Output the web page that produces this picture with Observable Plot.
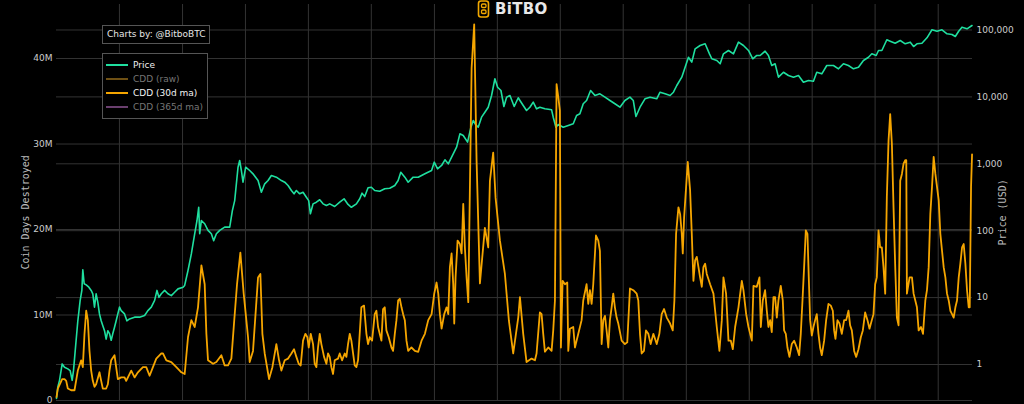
<!DOCTYPE html>
<html>
<head>
<meta charset="utf-8">
<script src="https://cdn.jsdelivr.net/npm/d3@7"></script>
<script src="https://cdn.jsdelivr.net/npm/@observablehq/plot@0.6"></script>
<style>
html, body { margin: 0; padding: 0; background: #000; }
#wrap { position: relative; width: 1024px; height: 404px; overflow: hidden; background: #000; }
#wrap svg { display: block; }
.box { position: absolute; box-sizing: border-box; border: 1px solid #555; background: #000;
       font-family: "DejaVu Sans", sans-serif; font-size: 9px; color: #e6e6e6; }
.item { position: absolute; left: 3px; height: 12px; line-height: 12px; white-space: nowrap; }
.sw { position: absolute; left: 0; top: 5px; width: 22px; height: 2px; }
.lab { position: absolute; left: 27px; top: 0; }
#logo { position: absolute; left: 477px; top: 0px; height: 18px; }
#logo span { position: absolute; left: 18px; top: 0px; font-family: "DejaVu Sans", sans-serif; font-weight: bold;
             font-size: 15px; line-height: 18px; color: #e8e8e8; letter-spacing: 0.3px; }
</style>
</head>
<body>
<div id="wrap"></div>
<script>
// ---- Data ----
// Price (USD), dates as decimal years
const priceTimes = [2011.00,2011.021,2011.048,2011.090,2011.127,2011.180,2011.217,2011.249,2011.270,2011.302,2011.339,
  2011.376,2011.403,2011.418,2011.440,2011.472,2011.514,2011.551,2011.577,2011.604,2011.630,2011.657,2011.683,2011.710,
  2011.736,2011.763,2011.789,2011.816,2011.842,2011.869,2011.895,2011.922,2011.948,
  2012.001,2012.028,2012.081,2012.118,2012.160,2012.240,2012.319,2012.399,2012.451,2012.505,2012.558,2012.595,2012.626,
  2012.664,2012.716,2012.769,2012.822,2012.875,2012.928,
  2013.008,2013.034,2013.087,2013.140,2013.193,2013.230,2013.257,2013.273,2013.299,2013.352,2013.405,2013.458,2013.495,
  2013.538,2013.591,2013.670,2013.750,2013.792,2013.829,2013.882,2013.908,2013.935,2013.961,
  2014.004,2014.067,2014.120,2014.200,2014.253,2014.306,2014.359,2014.412,2014.491,2014.571,2014.624,2014.677,2014.730,
  2014.772,2014.809,2014.862,2014.915,2014.968,
  2015.005,2015.032,2015.074,2015.127,2015.180,2015.233,2015.286,2015.339,2015.418,2015.498,2015.567,2015.630,2015.683,
  2015.763,2015.816,2015.853,2015.895,2015.948,
  2016.001,2016.054,2016.133,2016.213,2016.292,2016.372,2016.425,2016.467,2016.531,2016.584,2016.663,2016.743,2016.849,
  2016.955,2016.997,
  2017.050,2017.114,2017.167,2017.220,2017.273,2017.352,2017.405,2017.458,2017.527,2017.580,2017.617,2017.654,2017.696,
  2017.749,2017.802,2017.855,2017.908,2017.961,
  2018.004,2018.057,2018.104,2018.147,2018.200,2018.268,2018.332,2018.359,2018.411,2018.464,2018.517,2018.570,2018.623,
  2018.676,2018.756,2018.862,2018.888,2018.931,2018.968,
  2019.047,2019.127,2019.206,2019.259,2019.312,2019.365,2019.418,2019.482,2019.551,2019.630,2019.710,2019.789,2019.868,
  2019.948,
  2020.027,2020.107,2020.160,2020.202,2020.266,2020.345,2020.425,2020.531,2020.584,2020.663,2020.743,2020.796,2020.849,
  2020.928,2020.981,
  2021.034,2021.087,2021.140,2021.219,2021.299,2021.368,2021.405,2021.485,2021.538,2021.590,2021.670,2021.749,2021.829,
  2021.908,2021.988,
  2022.056,2022.120,2022.173,2022.252,2022.305,2022.358,2022.411,2022.464,2022.544,2022.623,2022.703,2022.782,2022.861,
  2022.941,
  2023.020,2023.073,2023.153,2023.232,2023.338,2023.418,2023.497,2023.576,2023.656,2023.736,2023.815,2023.895,2023.948,
  2024.017,2024.054,2024.107,2024.186,2024.239,2024.318,2024.398,2024.477,2024.557,2024.610,2024.663,2024.742,2024.822,
  2024.901,2024.981,
  2025.060,2025.140,2025.219,2025.272,2025.325,2025.378,2025.458,2025.537];
const priceValues = [0.31,0.46,0.58,1.02,0.91,0.86,0.81,0.58,0.81,1.8,4.5,
  9.1,12.8,26,16.1,15.5,14.3,12.8,11.4,7.2,11.4,8.5,5.7,4.5,
  3.8,3.2,2.4,3.2,2.9,2.3,2.9,3.6,4.5,
  7.2,6.4,5.7,4.5,4.8,5.1,5.1,5.4,6.4,7.2,9.1,12.8,10.1,
  11.4,12.8,11.4,10.7,12.0,13.5,
  14.3,15.2,25.4,45,90,142,224,90,142,127,101,90,71,
  90,101,113,113,200,282,890,1120,794,531,
  890,794,708,562,376,502,562,668,631,562,531,474,399,
  356,399,356,376,317,
  282,179,252,267,290,252,238,252,230,267,300,247,224,
  252,300,364,324,438,
  447,399,389,423,432,474,562,748,631,531,631,631,708,
  794,1057,
  841,944,1148,1000,1256,1770,2805,2650,2104,3524,4436,3864,3524,
  4977,5902,7015,10500,18660,
  13960,12470,7190,9910,10500,7190,9700,8830,7430,6260,7015,8340,6640,
  7015,6640,6410,4977,3524,3864,
  3524,3733,3963,5272,5585,7890,8830,12470,10500,11120,9910,8830,7890,
  7015,
  8830,9910,8830,5090,7015,9370,9910,9370,11750,11120,10500,11750,14800,
  19720,27800,
  39170,33040,52360,58600,62200,44060,37150,35000,31260,44060,49430,44060,65770,
  58600,49430,
  37150,41590,41590,48200,41590,29450,31260,19720,23390,20890,19720,20890,16600,
  17580,
  17180,23390,22130,29450,29450,26300,31260,29450,26300,27800,35000,39170,44060,
  41590,49430,49430,71450,68080,63530,69660,62200,65770,56620,62200,63530,76380,
  100700,95940,
  100700,87700,85700,80000,95940,110200,104200,116700];

// CDD (30d ma), millions of coin days, dates as decimal years
const cddTimes = [2011.00,2011.021,2011.090,2011.127,2011.154,2011.180,2011.233,2011.286,2011.339,2011.392,2011.418,
  2011.445,2011.472,2011.498,2011.524,2011.551,2011.577,2011.604,2011.630,2011.683,2011.710,2011.736,2011.789,2011.816,
  2011.842,2011.869,2011.922,2011.948,2011.975,
  2012.028,2012.081,2012.107,2012.187,2012.240,2012.293,2012.372,2012.425,2012.478,2012.531,2012.584,2012.664,2012.690,
  2012.743,2012.822,2012.902,2012.981,
  2013.034,2013.087,2013.140,2013.193,2013.246,2013.300,2013.352,2013.379,2013.405,2013.485,2013.538,2013.617,2013.670,
  2013.723,2013.776,2013.818,2013.866,2013.919,2013.972,
  2014.014,2014.041,2014.067,2014.120,2014.200,2014.237,2014.269,2014.306,2014.375,2014.428,2014.491,2014.534,2014.571,
  2014.624,2014.677,2014.730,2014.772,2014.809,2014.846,2014.878,2014.915,2014.952,2014.984,
  2015.005,2015.037,2015.074,2015.100,2015.127,2015.153,2015.180,2015.206,2015.249,2015.286,2015.312,2015.339,2015.365,
  2015.392,2015.418,2015.471,2015.498,2015.535,2015.577,2015.604,2015.630,2015.657,2015.683,2015.736,2015.763,2015.789,
  2015.842,2015.884,2015.922,2015.948,2015.975,
  2016.012,2016.054,2016.081,2016.107,2016.133,2016.160,2016.186,2016.213,2016.239,2016.276,2016.319,2016.345,2016.372,
  2016.398,2016.425,2016.451,2016.478,2016.504,2016.531,2016.557,2016.584,2016.636,2016.690,2016.743,2016.796,2016.849,
  2016.902,2016.955,2016.997,
  2017.034,2017.061,2017.087,2017.114,2017.156,2017.193,2017.220,2017.246,2017.273,2017.299,2017.315,2017.336,2017.368,
  2017.405,2017.432,2017.458,2017.484,2017.511,2017.538,2017.591,2017.632,2017.670,2017.723,2017.802,2017.855,2017.882,
  2017.934,2017.972,
  2018.041,2018.120,2018.184,2018.252,2018.332,2018.359,2018.411,2018.464,2018.544,2018.597,2018.623,2018.676,2018.703,
  2018.729,2018.756,2018.809,2018.862,2018.888,2018.915,2018.941,2018.968,2018.994,
  2019.010,2019.037,2019.074,2019.111,2019.127,2019.153,2019.206,2019.233,2019.286,2019.339,2019.365,2019.418,2019.445,
  2019.471,2019.498,2019.524,2019.567,2019.604,2019.630,2019.657,2019.683,2019.710,2019.736,2019.763,2019.789,2019.816,
  2019.842,2019.868,2019.895,2019.922,2019.975,
  2020.027,2020.064,2020.107,2020.160,2020.213,2020.239,2020.266,2020.292,2020.329,2020.361,2020.398,2020.435,2020.478,
  2020.531,2020.573,2020.610,2020.647,2020.690,2020.743,2020.785,2020.811,2020.838,2020.875,2020.902,2020.928,2020.944,
  2020.965,2020.997,
  2021.023,2021.060,2021.087,2021.113,2021.140,2021.166,2021.193,2021.219,2021.246,2021.272,2021.299,2021.325,2021.378,
  2021.431,2021.484,2021.526,2021.564,2021.590,2021.632,2021.670,2021.707,2021.739,2021.776,2021.829,2021.882,2021.908,
  2021.951,2021.988,
  2022.041,2022.067,2022.120,2022.162,2022.184,2022.215,2022.252,2022.279,2022.305,2022.332,2022.358,2022.385,2022.411,
  2022.438,2022.464,2022.501,2022.533,2022.554,2022.581,2022.607,2022.639,2022.676,2022.713,2022.756,2022.793,2022.819,
  2022.846,2022.872,2022.899,2022.925,2022.946,2022.968,2022.994,
  2023.020,2023.047,2023.073,2023.100,2023.126,2023.153,2023.190,2023.222,2023.259,2023.296,2023.328,2023.349,2023.370,
  2023.402,2023.434,2023.471,2023.508,2023.540,2023.577,2023.603,2023.630,2023.667,2023.699,2023.736,2023.773,2023.805,
  2023.842,2023.879,2023.911,2023.948,2023.974,
  2024.001,2024.027,2024.054,2024.080,2024.107,2024.133,2024.160,2024.186,2024.213,2024.239,2024.266,2024.292,2024.319,
  2024.345,2024.372,2024.398,2024.425,2024.451,2024.478,2024.494,2024.504,2024.547,2024.584,2024.610,2024.637,2024.663,
  2024.690,2024.727,2024.759,2024.796,2024.822,2024.849,2024.875,2024.902,2024.928,2024.955,2024.981,
  2025.008,2025.034,2025.061,2025.087,2025.114,2025.140,2025.167,2025.193,2025.220,2025.246,2025.273,2025.299,2025.326,
  2025.352,2025.379,2025.405,2025.432,2025.458,2025.485,2025.501,2025.522,2025.538];
const cddValues = [0.4,1.4,2.5,2.5,2.3,1.4,1.2,1.2,3.5,4.7,3.9,
  7.8,10.5,9.4,5.8,3.5,2.3,1.6,1.9,3.3,2.3,1.4,1.4,1.9,
  3.5,4.7,5.3,3.9,2.5,
  2.7,2.7,2.3,3.5,2.7,3.3,3.9,3.9,2.9,3.9,4.9,5.5,5.5,
  4.7,4.5,3.9,3.3,
  3.1,7.4,9.4,8.6,10.9,15.8,13.6,7.8,4.7,4.3,4.5,5.3,4.1,
  4.1,4.9,9.0,13.6,17.3,12.5,
  9.4,7.4,4.5,5.8,14.4,14.8,7.8,5.5,2.5,3.9,6.6,4.7,3.5,
  4.7,4.9,5.5,6.0,5.1,4.3,4.1,7.0,7.8,7.4,
  6.2,7.8,6.6,4.3,3.9,6.2,7.8,6.6,5.1,4.3,5.5,5.1,3.9,
  3.1,4.7,4.9,5.5,4.7,5.5,5.1,6.6,7.8,7.0,4.1,3.9,4.7,
  10.9,11.1,7.8,6.6,7.4,
  7.0,10.1,10.5,8.6,7.8,7.0,10.7,10.9,8.2,7.4,6.2,5.8,7.8,
  9.4,11.7,11.9,10.9,10.1,9.4,7.0,5.8,6.2,5.8,5.7,7.0,7.8,
  9.4,10.1,12.5,
  13.8,12.5,10.1,8.4,10.1,10.9,10.1,15.6,17.2,13.6,9.0,14.4,18.7,
  18.3,17.2,23.0,17.9,14.4,11.5,38.9,44.0,28.0,13.7,20.2,17.9,25.7,
  29.0,23.7,
  18.7,14.8,9.3,5.5,9.7,12.1,7.8,4.5,4.9,4.7,5.5,10.3,10.1,
  7.8,5.7,6.2,5.8,8.2,11.7,37.0,35.5,33.9,
  6.2,14.0,13.6,13.8,5.8,8.4,8.6,6.2,7.8,9.4,11.7,13.6,11.3,
  12.9,11.3,13.6,19.3,18.7,17.5,6.6,9.4,9.9,8.2,6.2,9.4,10.9,
  12.5,10.9,9.7,9.0,7.0,
  6.6,6.8,13.1,12.9,12.5,11.7,7.8,5.5,5.8,8.2,7.8,6.6,7.8,
  6.6,7.8,10.1,10.7,9.7,9.0,8.2,11.7,19.5,22.6,21.8,19.5,17.2,
  21.4,25.0,
  27.9,24.6,19.5,14.0,16.4,16.8,15.6,14.4,13.3,15.6,16.0,14.8,13.6,
  12.5,8.6,5.8,9.4,14.4,12.5,7.0,7.0,6.0,8.6,10.9,14.0,12.9,
  10.1,8.6,
  7.0,13.4,13.3,14.4,8.6,11.7,12.9,10.5,8.6,9.4,8.0,12.1,12.1,
  9.7,11.7,13.4,11.7,8.2,7.8,6.2,5.1,6.6,7.0,6.2,5.3,7.8,
  11.7,15.6,19.9,19.5,14.4,9.4,7.6,
  8.6,9.4,10.1,7.8,6.2,5.3,7.0,9.4,11.3,11.1,10.5,8.2,7.2,
  9.4,9.0,7.8,9.4,9.4,10.5,8.8,8.2,5.8,5.1,6.0,7.4,8.2,
  10.3,9.4,8.4,9.4,10.1,
  13.6,14.4,19.9,17.9,17.9,15.6,12.5,23.8,30.4,33.5,30.0,22.6,15.6,
  9.7,8.8,25.7,26.5,27.7,28.1,28.1,12.5,14.4,14.4,12.5,11.7,10.9,
  8.2,8.6,7.8,11.7,12.9,15.6,21.8,25.0,28.5,26.5,25.0,
  23.4,19.5,17.5,15.6,14.4,12.5,11.7,10.5,10.1,9.7,10.9,11.7,14.4,
  16.0,17.9,18.3,16.0,12.9,10.9,10.9,25.0,28.8];

// Axes
const cddTicks = [0, 10e6, 20e6, 30e6, 40e6];
const cddTickLabels = ["0", "10M", "20M", "30M", "40M"];
const priceTicks = [1, 10, 100, 1000, 10000, 100000];
const priceTickLabels = ["1", "10", "100", "1,000", "10,000", "100,000"];
const gridYears = [2012,2013,2014,2015,2016,2017,2018,2019,2020,2021,2022,2023,2024,2025];

// Legend entries
const legendNames = ["Price", "CDD (raw)", "CDD (30d ma)", "CDD (365d ma)"];
const legendColors = ["#1fdf9f", "#6e5014", "#f5a500", "#6a3f6e"];
const legendTextColors = ["#eeeeee", "#767676", "#f2f2f2", "#767676"];

// ---- Helpers ----
function decYear(t) {
  const y = Math.floor(t);
  const s = Date.UTC(y, 0, 1), e = Date.UTC(y + 1, 0, 1);
  return new Date(s + (t - y) * (e - s));
}
const CDD_MAX = 46.32e6;
// Secondary log axis (price) mapped onto the primary CDD value range
const priceToY = d3.scaleLog().domain([0.2897, 240500]).range([0, CDD_MAX]);

const priceData = priceTimes.map((t, i) => ({date: decYear(t), price: priceValues[i]}));
const cddData = cddTimes.map((t, i) => ({date: decYear(t), cdd: cddValues[i] * 1e6}));
const priceTickPos = priceTicks.map(p => priceToY(p));
const priceLabelMap = new Map(priceTickPos.map((v, i) => [v, priceTickLabels[i]]));
const cddLabelMap = new Map(cddTicks.map((v, i) => [v, cddTickLabels[i]]));

const GRID = "#333333";

const chart = Plot.plot({
  width: 1024,
  height: 404,
  marginLeft: 56,
  marginRight: 52,
  marginTop: 4,
  marginBottom: 4,
  style: {background: "#000", color: "#cccccc", fontFamily: "DejaVu Sans, sans-serif", fontSize: "9px"},
  x: {type: "utc", domain: [decYear(2011.0), decYear(2025.545)], axis: null},
  y: {domain: [0, CDD_MAX], axis: null},
  marks: [
    Plot.gridX(gridYears.map(y => decYear(y)), {stroke: GRID, strokeOpacity: 1}),
    Plot.gridY(cddTicks, {stroke: GRID, strokeOpacity: 1}),
    Plot.gridY(priceTickPos, {stroke: GRID, strokeOpacity: 1}),
    Plot.axisY(cddTicks, {anchor: "left", tickSize: 0, tickPadding: 4, label: null,
      tickFormat: d => cddLabelMap.get(d), fill: "#cccccc"}),
    Plot.axisY(priceTickPos, {anchor: "right", tickSize: 0, tickPadding: 4, label: null,
      tickFormat: d => priceLabelMap.get(d), fill: "#cccccc"}),
    Plot.text(["Coin Days Destroyed"], {text: d => d, frameAnchor: "left", y: 22e6, dx: -31, rotate: -90,
      textAnchor: "middle", fontFamily: "DejaVu Sans Mono, monospace", fontSize: 10, fill: "#bbbbbb"}),
    Plot.text(["Price (USD)"], {text: d => d, frameAnchor: "right", y: 22e6, dx: 30, rotate: -90,
      textAnchor: "middle", fontFamily: "DejaVu Sans Mono, monospace", fontSize: 10, fill: "#bbbbbb"}),
    Plot.line(priceData, {x: "date", y: d => priceToY(d.price), stroke: legendColors[0], strokeWidth: 1.6}),
    Plot.line(cddData, {x: "date", y: "cdd", stroke: legendColors[2], strokeWidth: 1.8})
  ]
});

const wrap = document.getElementById("wrap");
wrap.appendChild(chart);

// Logo
const logo = document.createElement("div");
logo.id = "logo";
logo.innerHTML = `<svg width="14" height="18" style="position:absolute;left:0;top:0">
  <rect x="1.5" y="1" width="10" height="16" rx="2.5" fill="none" stroke="#f2a900" stroke-width="1.6"/>
  <rect x="4.5" y="4" width="4.5" height="3.5" rx="1.2" fill="none" stroke="#f2a900" stroke-width="1.3"/>
  <rect x="4.5" y="10" width="4.5" height="3.5" rx="1.2" fill="none" stroke="#f2a900" stroke-width="1.3"/>
</svg><span>BiTBO</span>`;
wrap.appendChild(logo);

// "Charts by" box
const credit = document.createElement("div");
credit.className = "box";
Object.assign(credit.style, {left: "102px", top: "25px", width: "108px", height: "19px", lineHeight: "17px", paddingLeft: "4px"});
credit.textContent = "Charts by: @BitboBTC";
wrap.appendChild(credit);

// Legend box
const legend = document.createElement("div");
legend.className = "box";
Object.assign(legend.style, {left: "102px", top: "53px", width: "106px", height: "66px"});
legendNames.forEach((name, i) => {
  const it = document.createElement("div");
  it.className = "item";
  it.style.top = (5 + i * 14) + "px";
  it.innerHTML = `<div class="sw" style="background:${legendColors[i]}"></div><div class="lab" style="color:${legendTextColors[i]}">${name}</div>`;
  legend.appendChild(it);
});
wrap.appendChild(legend);
</script>
</body>
</html>
